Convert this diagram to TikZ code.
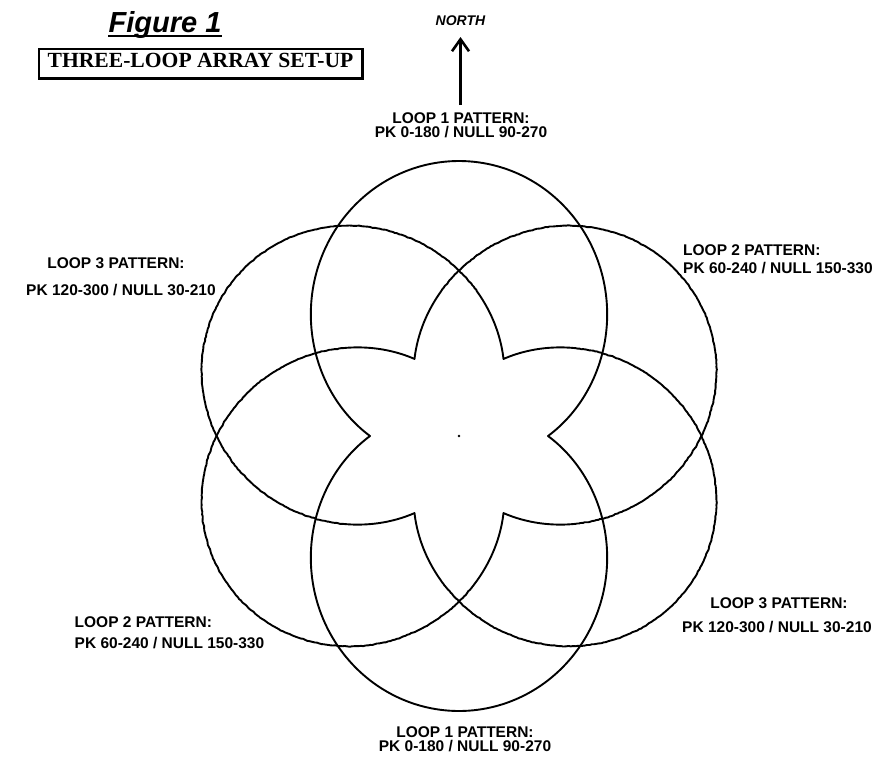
\documentclass[tikz,border=0pt]{standalone}
\usepackage{fontspec}
\setmainfont{Liberation Serif}
\newfontfamily\arialfont{Liberation Sans}
\usetikzlibrary{arrows.meta,decorations.pathmorphing}
\begin{document}
\begin{tikzpicture}[x=1pt,y=-1pt,
  declare function={rr(\t)=89+120*abs(cos(\t))+66*cos(\t)*cos(\t);},
  pat/.style={line width=1.9pt, line join=round},
  rough/.style={pat, decorate, decoration={random steps, segment length=2.5pt, amplitude=0.45pt}},
  lab/.style={font=\arialfont\bfseries\fontsize{15.5}{18}\selectfont, inner sep=0pt, anchor=base},
  labl/.style={lab, anchor=base west},
]
\pgfmathsetseed{7}
\useasboundingbox (0,0) rectangle (881,763);

% loop patterns
\draw[pat] plot[domain=0:360, samples=361] ({459+rr(\x)*sin(\x)}, {436-rr(\x)*cos(\x)}) -- cycle;
\draw[rough] plot[domain=0:360, samples=361] ({459+rr(\x)*sin(\x+60)}, {436-rr(\x)*cos(\x+60)}) -- cycle;
\draw[rough] plot[domain=0:360, samples=361] ({459+rr(\x)*sin(\x+120)}, {436-rr(\x)*cos(\x+120)}) -- cycle;
\node[circle, fill, inner sep=0pt, minimum size=2.8pt] (ctr) at (459,436) {};

% north arrow
\coordinate (ntail) at (460.5,105);
\coordinate (nhead) at (460.5,37);
\draw[line width=2.6pt, -{Straight Barb[length=12pt,width=17pt]}] (ntail) -- (nhead);
\node[font=\arialfont\bfseries\itshape\fontsize{14}{16}\selectfont, inner sep=0pt, anchor=base] (north) at (460.5,25) {NORTH};

% title
\node[font=\arialfont\bfseries\itshape\fontsize{29}{32}\selectfont, anchor=base, inner sep=0pt] (fig) at (165,32) {Figure 1};
\draw[line width=2pt] ([yshift=-4pt]fig.base west) -- ([yshift=-4pt]fig.base east);
\node[draw, line width=1.3pt, minimum width=323pt, minimum height=29pt, inner sep=0pt, text depth=6pt,
      font=\bfseries\fontsize{21.6}{24}\selectfont] (setup) at (200.5,63.5) {THREE-LOOP ARRAY SET-UP};
\draw[line width=2.2pt] (setup.north east) -- (setup.south east) -- (setup.south west);

% labels
\node[lab] (l1a) at (461,123) {LOOP 1 PATTERN:};
\node[lab] (l1b) at (461,137) {PK 0-180 / NULL 90-270};
\node[lab] (l1c) at (465,737.5) {LOOP 1 PATTERN:};
\node[lab] (l1d) at (465,751.5) {PK 0-180 / NULL 90-270};
\node[lab] (l3a) at (116,268.5) {LOOP 3 PATTERN:};
\node[lab] (l3b) at (121,295) {PK 120-300 / NULL 30-210};
\node[lab] (l3c) at (779,608.5) {LOOP 3 PATTERN:};
\node[lab] (l3d) at (777,632) {PK 120-300 / NULL 30-210};
\node[labl] (l2a) at (683,255) {LOOP 2 PATTERN:};
\node[labl] (l2b) at (683,273.5) {PK 60-240 / NULL 150-330};
\node[labl] (l2c) at (74.5,627) {LOOP 2 PATTERN:};
\node[labl] (l2d) at (74.5,648.5) {PK 60-240 / NULL 150-330};
\end{tikzpicture}
\end{document}
